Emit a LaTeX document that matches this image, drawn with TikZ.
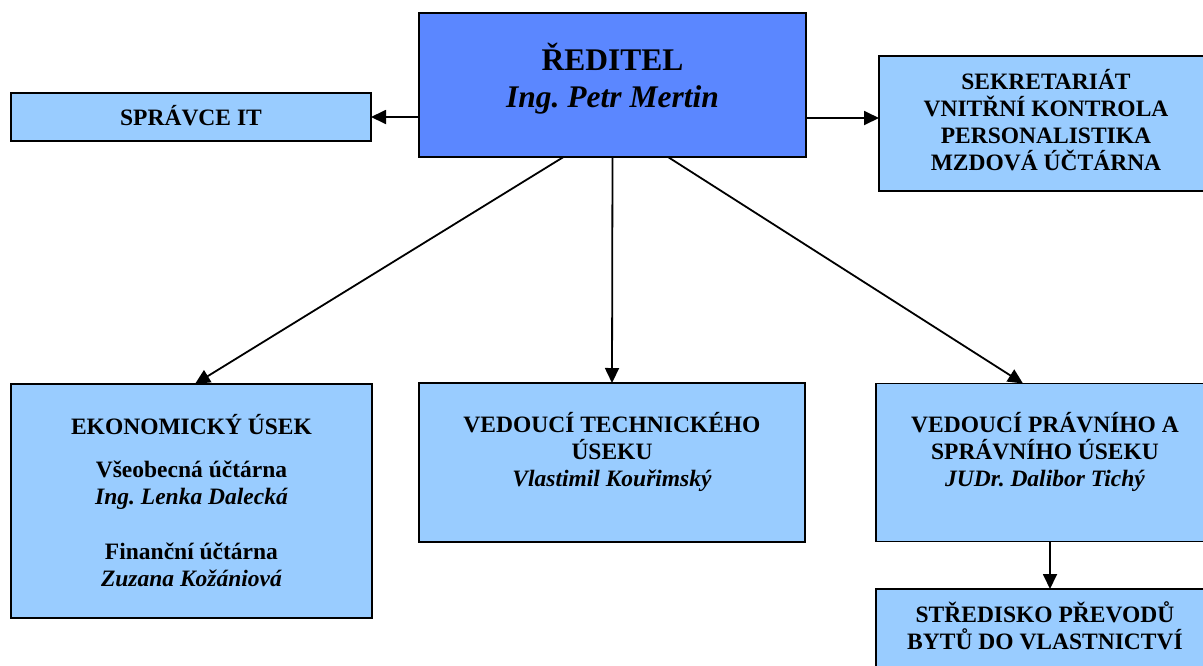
\documentclass[tikz,border=0pt]{standalone}
\usepackage{fontspec}
\setmainfont{Liberation Serif}
\usetikzlibrary{arrows.meta}
\frenchspacing
\definecolor{headblue}{HTML}{5B87FF}
\definecolor{unitblue}{HTML}{99CCFF}
\tikzset{
  box/.style={draw=black, line width=1.8pt, rectangle, inner sep=0pt, outer sep=0pt},
  unit/.style={box, fill=unitblue},
  head/.style={box, fill=headblue},
  txt/.style={align=center, inner sep=0pt, font=\bfseries\fontsize{23.5}{27}\selectfont},
  bigtxt/.style={align=center, inner sep=0pt, font=\bfseries\fontsize{31.5}{37}\selectfont},
  arr/.style={line width=1.8pt, -{Triangle[length=15pt,width=14pt]}}
}
\begin{document}
\begin{tikzpicture}[x=1pt,y=-1pt]
\useasboundingbox (0,0) rectangle (1203,665);
\clip (0,0) rectangle (1203,665);

% boxes
\node[head, minimum width=387pt, minimum height=144pt] (dir) at (612.5,85) {};
\node[unit, minimum width=360pt, minimum height=48pt] (it) at (191,117) {};
\node[unit, minimum width=334pt, minimum height=135pt] (sek) at (1046,123.5) {};
\node[unit, minimum width=361pt, minimum height=234pt] (eko) at (191.5,501) {};
\node[unit, minimum width=386pt, minimum height=159pt] (tech) at (612,462.5) {};
\node[unit, minimum width=338pt, minimum height=158pt] (leg) at (1045,462.5) {};
\node[unit, minimum width=338pt, minimum height=100pt] (str) at (1045,639) {};

% texts
\node[bigtxt] (dirt) at (612.5,78.5) {ŘEDITEL\\\itshape Ing. Petr Mertin};
\node[txt, anchor=base] (itt) at (191,125.8) {SPRÁVCE IT};
\node[txt] (sekt) at (1046,120.2) {SEKRETARIÁT\\VNITŘNÍ KONTROLA\\PERSONALISTIKA\\MZDOVÁ ÚČTÁRNA};
\node[txt] (ekot) at (191.5,500.8) {EKONOMICKÝ ÚSEK\\[16pt]Všeobecná účtárna\\\itshape Ing. Lenka Dalecká\\[28pt]Finanční účtárna\\\itshape Zuzana Kožániová};
\node[txt] (techt) at (612,452.3) {VEDOUCÍ TECHNICKÉHO\\ÚSEKU\\\itshape Vlastimil Kouřimský};
\node[txt] (legt) at (1045,452.3) {VEDOUCÍ PRÁVNÍHO A\\SPRÁVNÍHO ÚSEKU\\\itshape JUDr. Dalibor Tichý};
\node[txt] (strt) at (1045,626.2) {STŘEDISKO PŘEVODŮ\\BYTŮ DO VLASTNICTVÍ};

% connectors
\draw[arr] (it.east -| dir.west) -- (it.east);
\draw[arr] ([yshift=5.5pt]sek.west -| dir.east) -- ([yshift=5.5pt]sek.west);
\draw[arr] ([xshift=-49pt]dir.south) -- ([xshift=3.5pt]eko.north);
\draw[arr] (dir.south) -- (tech.north);
\draw[arr] ([xshift=55.5pt]dir.south) -- ([xshift=-22pt]leg.north);
\draw[arr] ([xshift=5pt]leg.south) -- ([xshift=5pt]str.north);
\end{tikzpicture}
\end{document}
